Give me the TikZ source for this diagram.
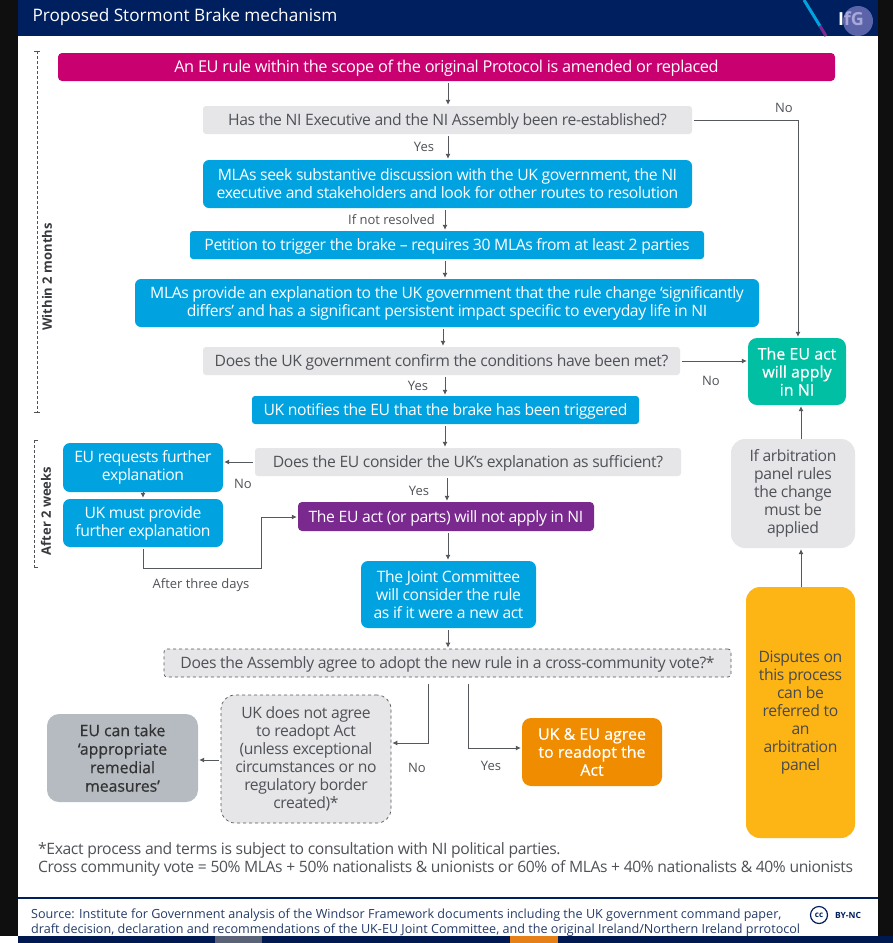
\documentclass[tikz,border=0pt]{standalone}
\usepackage{fontspec}
\setmainfont{Open Sans}
\usetikzlibrary{arrows.meta,calc}
\definecolor{navy}{HTML}{001F5F}
\definecolor{pinkb}{HTML}{C9006F}
\definecolor{blueb}{HTML}{00A3E0}
\definecolor{grayb}{HTML}{E6E6E8}
\definecolor{txt}{HTML}{4F5257}
\definecolor{purp}{HTML}{7A2A8F}
\definecolor{teal}{HTML}{00BFA3}
\definecolor{orng}{HTML}{EF8C00}
\definecolor{yell}{HTML}{FDB515}
\definecolor{slate}{HTML}{B5BBC1}
\definecolor{linec}{HTML}{55585C}
\newcommand{\sq}{\addfontfeature{LetterSpace=-2.5}}
\newcommand{\fk}{\addfontfeature{FakeBold=0.6}}
\tikzset{
 x=1pt,y=-1pt,
 boxb/.style={rounded corners=4pt,inner sep=0pt,align=center,font=\fontsize{15.7}{18}\selectfont\sq,execute at begin node={\rule{0pt}{15.5pt}}},
 bluebox/.style={boxb,fill=blueb,text=white,rounded corners=6pt},
 qbox/.style={boxb,fill=grayb,text=txt,rounded corners=3pt},
 arr/.style={draw=linec,line width=0.8pt,-{Latex[length=5pt,width=5pt]},shorten <=2pt,shorten >=1pt},
 lab/.style={inner sep=0pt,text=txt,font=\fontsize{13}{15}\selectfont},
}
\newcommand{\bx}[7]{\node[#1,minimum width=#5-#3,minimum height=#6-#4] (#2) at ({(#3+#5)/2},{(#4+#6)/2}) {#7};}
\begin{document}
\begin{tikzpicture}
\useasboundingbox (0,0) rectangle (893,943);
\fill[black!94] (0,0) rectangle (893,943);
\fill[white] (18,0) rectangle (878,936);
\fill[navy] (18,0) rectangle (878,36);
\fill[white] (0,936) rectangle (18,943);
\fill[navy!85!black] (18,936) rectangle (893,943);
\fill[gray!70!navy] (215,936) rectangle (262,943);
\fill[orange!60!brown] (510,936) rectangle (558,943);
\draw[blueb,line width=3pt] (804,0) -- (820,26);
\draw[purp,line width=3pt] (820,26) -- (826,36);
\node[inner sep=0pt,text=white,font=\fontsize{17.2}{20}\selectfont] (title) at (185,17.5) {Proposed Stormont Brake mechanism};
\node[inner sep=0pt,text=white,font=\bfseries\fontsize{18}{20}\selectfont] (ifg) at (851,19) {IfG};
\fill[gray!60!blue!70,opacity=.7] (858,21) circle (15);
% dashed brackets
\draw[densely dashed,line width=.5pt,txt] (37,51) -- (37,412);
\draw[line width=.5pt,txt] (34,51) -- (40,51) (34,412) -- (40,412);
\draw[densely dashed,line width=.5pt,txt] (34,440) -- (34,567);
\draw[line width=.5pt,txt] (34,440) -- (38,440) (34,567) -- (38,567);
\node[rotate=90,inner sep=0pt,font=\bfseries\fontsize{13}{15}\selectfont,text=txt!70!black] (w2m) at (47,277) {Within 2 months};
\node[rotate=90,inner sep=0pt,font=\bfseries\fontsize{13}{15}\selectfont,text=txt!70!black] (a2w) at (46,511) {After 2 weeks};
% boxes
\bx{boxb,fill=pinkb,text=white,font=\fontsize{16.3}{18}\selectfont\sq}{pink}{58}{53}{835}{81}{An EU rule within the scope of the original Protocol is amended or replaced}
\bx{qbox}{q1}{203}{106}{692}{134}{Has the NI Executive and the NI Assembly been re-established?}
\bx{bluebox}{mla}{203}{160}{692}{208}{MLAs seek substantive discussion with the UK government, the NI\\executive and stakeholders and look for other routes to resolution}
\bx{bluebox,rounded corners=3pt}{pet}{190}{231}{704}{259}{Petition to trigger the brake -- requires 30 MLAs from at least 2 parties}
\bx{bluebox}{expl}{135}{279}{759}{327}{MLAs provide an explanation to the UK government that the rule change ‘significantly\\differs’ and has a significant persistent impact specific to everyday life in NI}
\bx{qbox}{q2}{203}{347}{680}{375}{Does the UK government confirm the conditions have been met?}
\bx{bluebox,rounded corners=3pt}{notify}{252}{396}{639}{424}{UK notifies the EU that the brake has been triggered}
\bx{qbox}{q3}{255}{448}{681}{476}{Does the EU consider the UK’s explanation as sufficient?}
\bx{bluebox,rounded corners=7pt}{req}{63}{443}{223}{492}{EU requests further\\explanation}
\bx{bluebox,rounded corners=7pt}{must}{63}{499}{223}{547}{UK must provide\\further explanation}
\bx{boxb,fill=purp,text=white}{act}{298}{502}{594}{531}{The EU act (or parts) will not apply in NI}
\bx{bluebox,rounded corners=7pt}{joint}{361}{561}{536}{628}{The Joint Committee\\will consider the rule\\as if it were a new act}
\bx{qbox,draw=linec,dashed,line width=.7pt}{assem}{164}{649}{731}{677}{Does the Assembly agree to adopt the new rule in a cross-community vote?*}
\bx{qbox,draw=linec,dashed,line width=.7pt,rounded corners=14pt}{notag}{221}{695}{391}{823}{UK does not agree\\to readopt Act\\(unless exceptional\\circumstances or no\\regulatory border\\created)*}
\bx{boxb,fill=slate,text=black!80,rounded corners=12pt,font=\fontsize{15.8}{18.5}\selectfont\fk}{rem}{47}{714}{198}{802}{EU can take\\‘appropriate\\remedial\\measures’}
\bx{boxb,fill=orng,text=white,rounded corners=9pt,font=\fontsize{16}{18}\selectfont\fk}{agree}{522}{718}{662}{786}{UK \& EU agree\\to readopt the\\Act}
\bx{boxb,fill=yell,text=txt!90!black,rounded corners=14pt}{disp}{746}{587}{855}{838}{Disputes on\\this process\\can be\\referred to\\an\\arbitration\\panel}
\bx{boxb,fill=teal,text=white,rounded corners=9pt,font=\fontsize{16}{18}\selectfont\fk}{apply}{748}{338}{846}{405}{The EU act\\will apply\\in NI}
\bx{qbox,rounded corners=14pt}{arb}{731}{439}{855}{548}{If arbitration\\panel rules\\the change\\must be\\applied}
% connector helpers
\coordinate (x1) at (448,0);
\draw[arr] (x1 |- pink.south) -- (x1 |- q1.north);
\draw[arr] (x1 |- q1.south) -- (x1 |- mla.north);
\coordinate (x2) at (445,0);
\draw[arr] (x2 |- mla.south) -- (x2 |- pet.north);
\draw[arr] (x2 |- pet.south) -- (x2 |- expl.north);
\coordinate (x3) at (443,0);
\draw[arr] (x3 |- expl.south) -- (x3 |- q2.north);
\coordinate (x4) at (445,0);
\draw[arr] (x4 |- q2.south) -- (x4 |- notify.north);
\draw[arr] (x4 |- notify.south) -- (x4 |- q3.north);
\coordinate (x5) at (447,0);
\draw[arr] (x5 |- q3.south) -- (x5 |- act.north);
\coordinate (x6) at (448,0);
\draw[arr] (x6 |- act.south) -- (x6 |- joint.north);
\draw[arr] (x6 |- joint.south) -- (x6 |- assem.north);
\coordinate (x7) at (798,0);
\draw[arr] (q1.east) -| (x7 |- apply.north);
\draw[arr] (q2.east) -- (q2.east -| apply.west);
\draw[arr] (q3.west) -- (q3.west -| req.east);
\coordinate (x8) at (143,0);
\draw[arr,shorten <=0pt] (x8 |- req.south) -- (x8 |- must.north);
\coordinate (y1) at (0,568);
\coordinate (x9) at (261,0);
\coordinate (y2) at (0,517);
\draw[arr] (x8 |- must.south) -- (x8 |- y1) -- (x9 |- y1) -- (x9 |- y2) -- (act.west |- y2);
\coordinate (x10) at (428,0);
\coordinate (y3) at (0,743);
\draw[arr,shorten <=7pt] (x10 |- assem.south) -- (x10 |- y3) -- (notag.east |- y3);
\coordinate (x11) at (468,0);
\coordinate (y4) at (0,748);
\draw[arr,shorten <=7pt] (x11 |- assem.south) -- (x11 |- y4) -- (agree.west |- y4);
\coordinate (y5) at (0,760);
\draw[arr] (notag.west |- y5) -- (rem.east |- y5);
\coordinate (x12) at (801,0);
\draw[arr,shorten <=0pt] (x12 |- disp.north) -- (x12 |- arb.south);
\draw[arr,shorten <=0pt] (x12 |- arb.north) -- (x12 |- apply.south);
% labels
\node[lab] (l1) at (784,108) {No};
\node[lab] (l2) at (424,147) {Yes};
\node[lab] (l3) at (391.5,220) {If not resolved};
\node[lab] (l4) at (711,381) {No};
\node[lab] (l5) at (418,386) {Yes};
\node[lab] (l6) at (243,484) {No};
\node[lab] (l7) at (419,491) {Yes};
\node[lab] (l8) at (201,585) {After three days};
\node[lab] (l9) at (417,768) {No};
\node[lab] (l10) at (491,766) {Yes};
% footnote
\node[anchor=west,inner sep=0pt,text=txt,font=\fontsize{15.7}{18}\selectfont\sq] (fn1) at (38,850) {*Exact process and terms is subject to consultation with NI political parties.};
\node[anchor=west,inner sep=0pt,text=txt,font=\fontsize{15.65}{18}\selectfont\sq] (fn2) at (38,868) {Cross community vote = 50\% MLAs + 50\% nationalists \& unionists or 60\% of MLAs + 40\% nationalists \& 40\% unionists};
\draw[navy,line width=1.6pt] (18,898) -- (878,898);
\node[anchor=west,inner sep=0pt,text=navy!70!gray,font=\fontsize{12.6}{15}\selectfont] (s1) at (31,915.5) {Source: Institute for Government analysis of the Windsor Framework documents including the UK government command paper,};
\node[anchor=west,inner sep=0pt,text=navy!70!gray,font=\fontsize{12.6}{15}\selectfont] (s2) at (31,930) {draft decision, declaration and recommendations of the UK-EU Joint Committee, and the original Ireland/Northern Ireland prrotocol};
\draw[navy,line width=1.2pt] (819,915) circle (8.5);
\node[inner sep=0pt,text=navy,font=\bfseries\fontsize{8}{9}\selectfont] (cc) at (819,915) {cc};
\node[inner sep=0pt,text=navy,font=\bfseries\fontsize{8.5}{10}\selectfont] (by) at (848,915) {BY-NC};
\end{tikzpicture}
\end{document}
